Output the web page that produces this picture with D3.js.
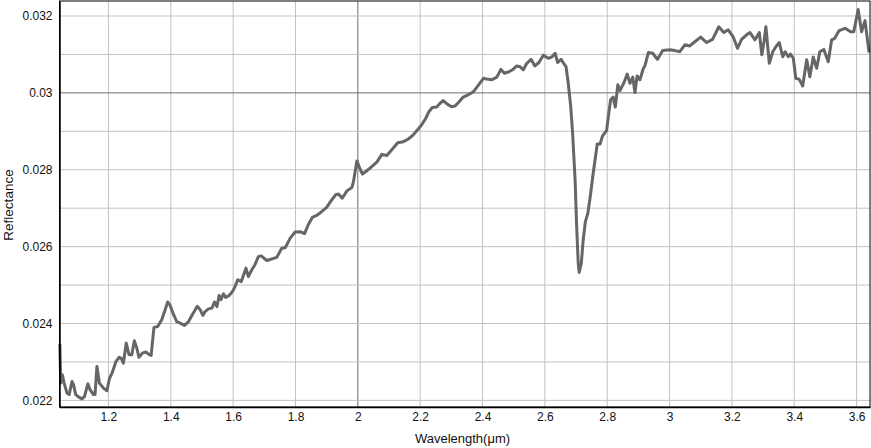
<!DOCTYPE html>
<html>
<head>
<meta charset="utf-8">
<script src="https://cdn.jsdelivr.net/npm/d3@7"></script>
<style>
  body { margin: 0; background: #fff; }
  svg text { font-family: Arial, "Liberation Sans", Helvetica, sans-serif; }
</style>
</head>
<body>
<svg id="chart" width="871" height="448"></svg>
<script>
// wavelength (µm)
const wavelength = [
  1.044, 1.047, 1.052, 1.058, 1.067, 1.074, 1.083, 1.088, 1.095, 1.104,
  1.115, 1.123, 1.134, 1.141, 1.152, 1.157, 1.163, 1.171, 1.184, 1.195,
  1.203, 1.213, 1.224, 1.234, 1.241, 1.248, 1.257, 1.266, 1.275, 1.283,
  1.291, 1.298, 1.309, 1.320, 1.331, 1.337, 1.346, 1.358, 1.371, 1.382,
  1.390, 1.398, 1.408, 1.419, 1.430, 1.444, 1.457, 1.469, 1.485, 1.494,
  1.503, 1.510, 1.521, 1.532, 1.540, 1.548, 1.555, 1.561, 1.569, 1.576,
  1.587, 1.598, 1.606, 1.615, 1.626, 1.633, 1.641, 1.649, 1.660, 1.670,
  1.681, 1.690, 1.708, 1.740, 1.756, 1.767, 1.783, 1.799, 1.815, 1.829,
  1.841, 1.854, 1.868, 1.884, 1.900, 1.914, 1.929, 1.938, 1.950, 1.965,
  1.981, 1.986, 1.997, 2.007, 2.015, 2.039, 2.061, 2.077, 2.093, 2.109,
  2.128, 2.146, 2.162, 2.178, 2.194, 2.205, 2.218, 2.228, 2.239, 2.253,
  2.264, 2.274, 2.288, 2.301, 2.312, 2.325, 2.338, 2.354, 2.371, 2.385,
  2.403, 2.413, 2.430, 2.446, 2.459, 2.470, 2.485, 2.496, 2.510, 2.520,
  2.531, 2.542, 2.556, 2.568, 2.581, 2.595, 2.611, 2.622, 2.633, 2.641,
  2.652, 2.662, 2.668, 2.675, 2.683, 2.689, 2.697, 2.702, 2.707, 2.710,
  2.717, 2.723, 2.730, 2.738, 2.747, 2.755, 2.764, 2.768, 2.777, 2.785,
  2.798, 2.805, 2.811, 2.819, 2.826, 2.834, 2.841, 2.854, 2.864, 2.873,
  2.882, 2.889, 2.896, 2.905, 2.916, 2.921, 2.932, 2.946, 2.961, 2.978,
  3.001, 3.017, 3.033, 3.049, 3.065, 3.081, 3.100, 3.119, 3.138, 3.158,
  3.174, 3.188, 3.204, 3.218, 3.231, 3.247, 3.258, 3.274, 3.288, 3.296,
  3.303, 3.309, 3.320, 3.331, 3.341, 3.352, 3.363, 3.371, 3.381, 3.388,
  3.397, 3.405, 3.416, 3.427, 3.440, 3.450, 3.461, 3.472, 3.482, 3.495,
  3.509, 3.520, 3.530, 3.544, 3.563, 3.581, 3.591, 3.605, 3.616, 3.627,
  3.640
];

// reflectance, same order
const reflectance = [
  0.02347, 0.02245, 0.02267, 0.02245, 0.02219, 0.02215, 0.02249, 0.02241, 0.02215, 0.02209,
  0.02204, 0.02210, 0.02243, 0.02228, 0.02215, 0.02215, 0.02288, 0.02245, 0.02232, 0.02225,
  0.02256, 0.02274, 0.02301, 0.02312, 0.02310, 0.02297, 0.02349, 0.02319, 0.02319, 0.02355,
  0.02336, 0.02312, 0.02323, 0.02326, 0.02319, 0.02317, 0.02390, 0.02392, 0.02410, 0.02436,
  0.02456, 0.02447, 0.02425, 0.02405, 0.02401, 0.02395, 0.02405, 0.02423, 0.02445, 0.02436,
  0.02421, 0.02431, 0.02438, 0.02440, 0.02456, 0.02444, 0.02473, 0.02462, 0.02477, 0.02468,
  0.02473, 0.02483, 0.02496, 0.02514, 0.02509, 0.02525, 0.02544, 0.02522, 0.02540, 0.02553,
  0.02574, 0.02576, 0.02564, 0.02572, 0.02596, 0.02597, 0.02622, 0.02638, 0.02639, 0.02634,
  0.02657, 0.02676, 0.02681, 0.02691, 0.02702, 0.02719, 0.02735, 0.02737, 0.02726, 0.02745,
  0.02754, 0.02769, 0.02823, 0.02802, 0.02789, 0.02804, 0.02820, 0.02840, 0.02837, 0.02852,
  0.02870, 0.02873, 0.02880, 0.02891, 0.02906, 0.02917, 0.02934, 0.02951, 0.02962, 0.02963,
  0.02973, 0.02980, 0.02970, 0.02964, 0.02966, 0.02977, 0.02989, 0.02995, 0.03003, 0.03018,
  0.03038, 0.03036, 0.03034, 0.03041, 0.03061, 0.03051, 0.03055, 0.03060, 0.03070, 0.03068,
  0.03060, 0.03077, 0.03087, 0.03070, 0.03079, 0.03098, 0.03090, 0.03093, 0.03103, 0.03079,
  0.03087, 0.03075, 0.03068, 0.03025, 0.02964, 0.02895, 0.02774, 0.02652, 0.02557, 0.02533,
  0.02557, 0.02618, 0.02665, 0.02687, 0.02739, 0.02791, 0.02843, 0.02867, 0.02867, 0.02888,
  0.02902, 0.02947, 0.02982, 0.02989, 0.02963, 0.03021, 0.03006, 0.03027, 0.03049, 0.03025,
  0.03041, 0.03001, 0.03044, 0.03034, 0.03064, 0.03070, 0.03105, 0.03103, 0.03087, 0.03110,
  0.03112, 0.03110, 0.03107, 0.03125, 0.03122, 0.03133, 0.03145, 0.03131, 0.03139, 0.03172,
  0.03157, 0.03164, 0.03146, 0.03116, 0.03139, 0.03151, 0.03157, 0.03138, 0.03157, 0.03099,
  0.03133, 0.03172, 0.03077, 0.03107, 0.03120, 0.03131, 0.03094, 0.03107, 0.03094, 0.03101,
  0.03090, 0.03038, 0.03035, 0.03018, 0.03086, 0.03042, 0.03093, 0.03064, 0.03107, 0.03113,
  0.03081, 0.03138, 0.03142, 0.03162, 0.03168, 0.03159, 0.03159, 0.03217, 0.03159, 0.03188,
  0.03105
];

const xTicks = [1.2, 1.4, 1.6, 1.8, 2, 2.2, 2.4, 2.6, 2.8, 3, 3.2, 3.4, 3.6];
const yTicks = [0.022, 0.024, 0.026, 0.028, 0.03, 0.032];
const yGrid = [0.022, 0.023, 0.024, 0.025, 0.026, 0.027, 0.028, 0.029, 0.03, 0.031, 0.032];
const darkGridX = [2];
const darkGridY = [0.03];

const width = 871, height = 448;
const margin = {top: 1, right: 1, bottom: 41, left: 59.5};
const innerW = width - margin.left - margin.right;
const innerH = height - margin.top - margin.bottom;

const data = wavelength.map((w, i) => ({w: w, r: reflectance[i]}));

const x = d3.scaleLinear().domain([1.043, 3.643]).range([0, innerW]);
const y = d3.scaleLinear().domain([0.021828, 0.03239]).range([innerH, 0]);

const svg = d3.select('#chart');
const g = svg.append('g').attr('transform', `translate(${margin.left},${margin.top})`);

// grid, x=2 and y=0.03 are drawn darker like in the original
g.append('g').selectAll('line').data(xTicks).join('line')
  .attr('x1', d => x(d)).attr('x2', d => x(d))
  .attr('y1', 0).attr('y2', innerH)
  .attr('stroke', d => darkGridX.includes(d) ? '#6e6e6e' : '#c2c2c2')
  .attr('stroke-width', 1);

g.append('g').selectAll('line').data(yGrid).join('line')
  .attr('x1', 0).attr('x2', innerW)
  .attr('y1', d => y(d)).attr('y2', d => y(d))
  .attr('stroke', d => darkGridY.some(v => Math.abs(v - d) < 1e-9) ? '#6e6e6e' : '#c2c2c2')
  .attr('stroke-width', 1);

// the spectrum
const line = d3.line().x(d => x(d.w)).y(d => y(d.r));
g.append('path')
  .datum(data)
  .attr('fill', 'none')
  .attr('stroke', '#666')
  .attr('stroke-width', 3)
  .attr('stroke-linejoin', 'round')
  .attr('d', line);

// frame (top / right)
g.append('rect')
  .attr('x', 0).attr('y', 0)
  .attr('width', innerW).attr('height', innerH)
  .attr('fill', 'none').attr('stroke', '#000').attr('stroke-width', 1);

// axes
const xAxis = d3.axisBottom(x).tickValues(xTicks).tickSize(0).tickPadding(5)
  .tickFormat(d => String(+d.toFixed(1)));
const gx = g.append('g').attr('transform', `translate(0,${innerH})`).call(xAxis);
gx.select('.domain').attr('stroke', '#000').attr('stroke-width', 1.5);
gx.selectAll('text').attr('font-size', 12).attr('fill', '#111')
  .attr('font-family', 'Arial, "Liberation Sans", sans-serif');

const yAxis = d3.axisLeft(y).tickValues(yTicks).tickSize(0).tickPadding(7)
  .tickFormat(d => String(+d.toFixed(3)));
const gy = g.append('g').call(yAxis);
gy.select('.domain').attr('stroke', '#000').attr('stroke-width', 1.5);
gy.selectAll('text').attr('font-size', 12).attr('fill', '#111')
  .attr('font-family', 'Arial, "Liberation Sans", sans-serif');

// titles
svg.append('text')
  .attr('x', 462.5)
  .attr('y', 442.5)
  .attr('text-anchor', 'middle')
  .attr('font-size', 13)
  .attr('fill', '#111')
  .text('Wavelength(μm)');

svg.append('text')
  .attr('transform', `translate(13,205) rotate(-90)`)
  .attr('text-anchor', 'middle')
  .attr('font-size', 13.5)
  .attr('fill', '#111')
  .text('Reflectance');
</script>
</body>
</html>
